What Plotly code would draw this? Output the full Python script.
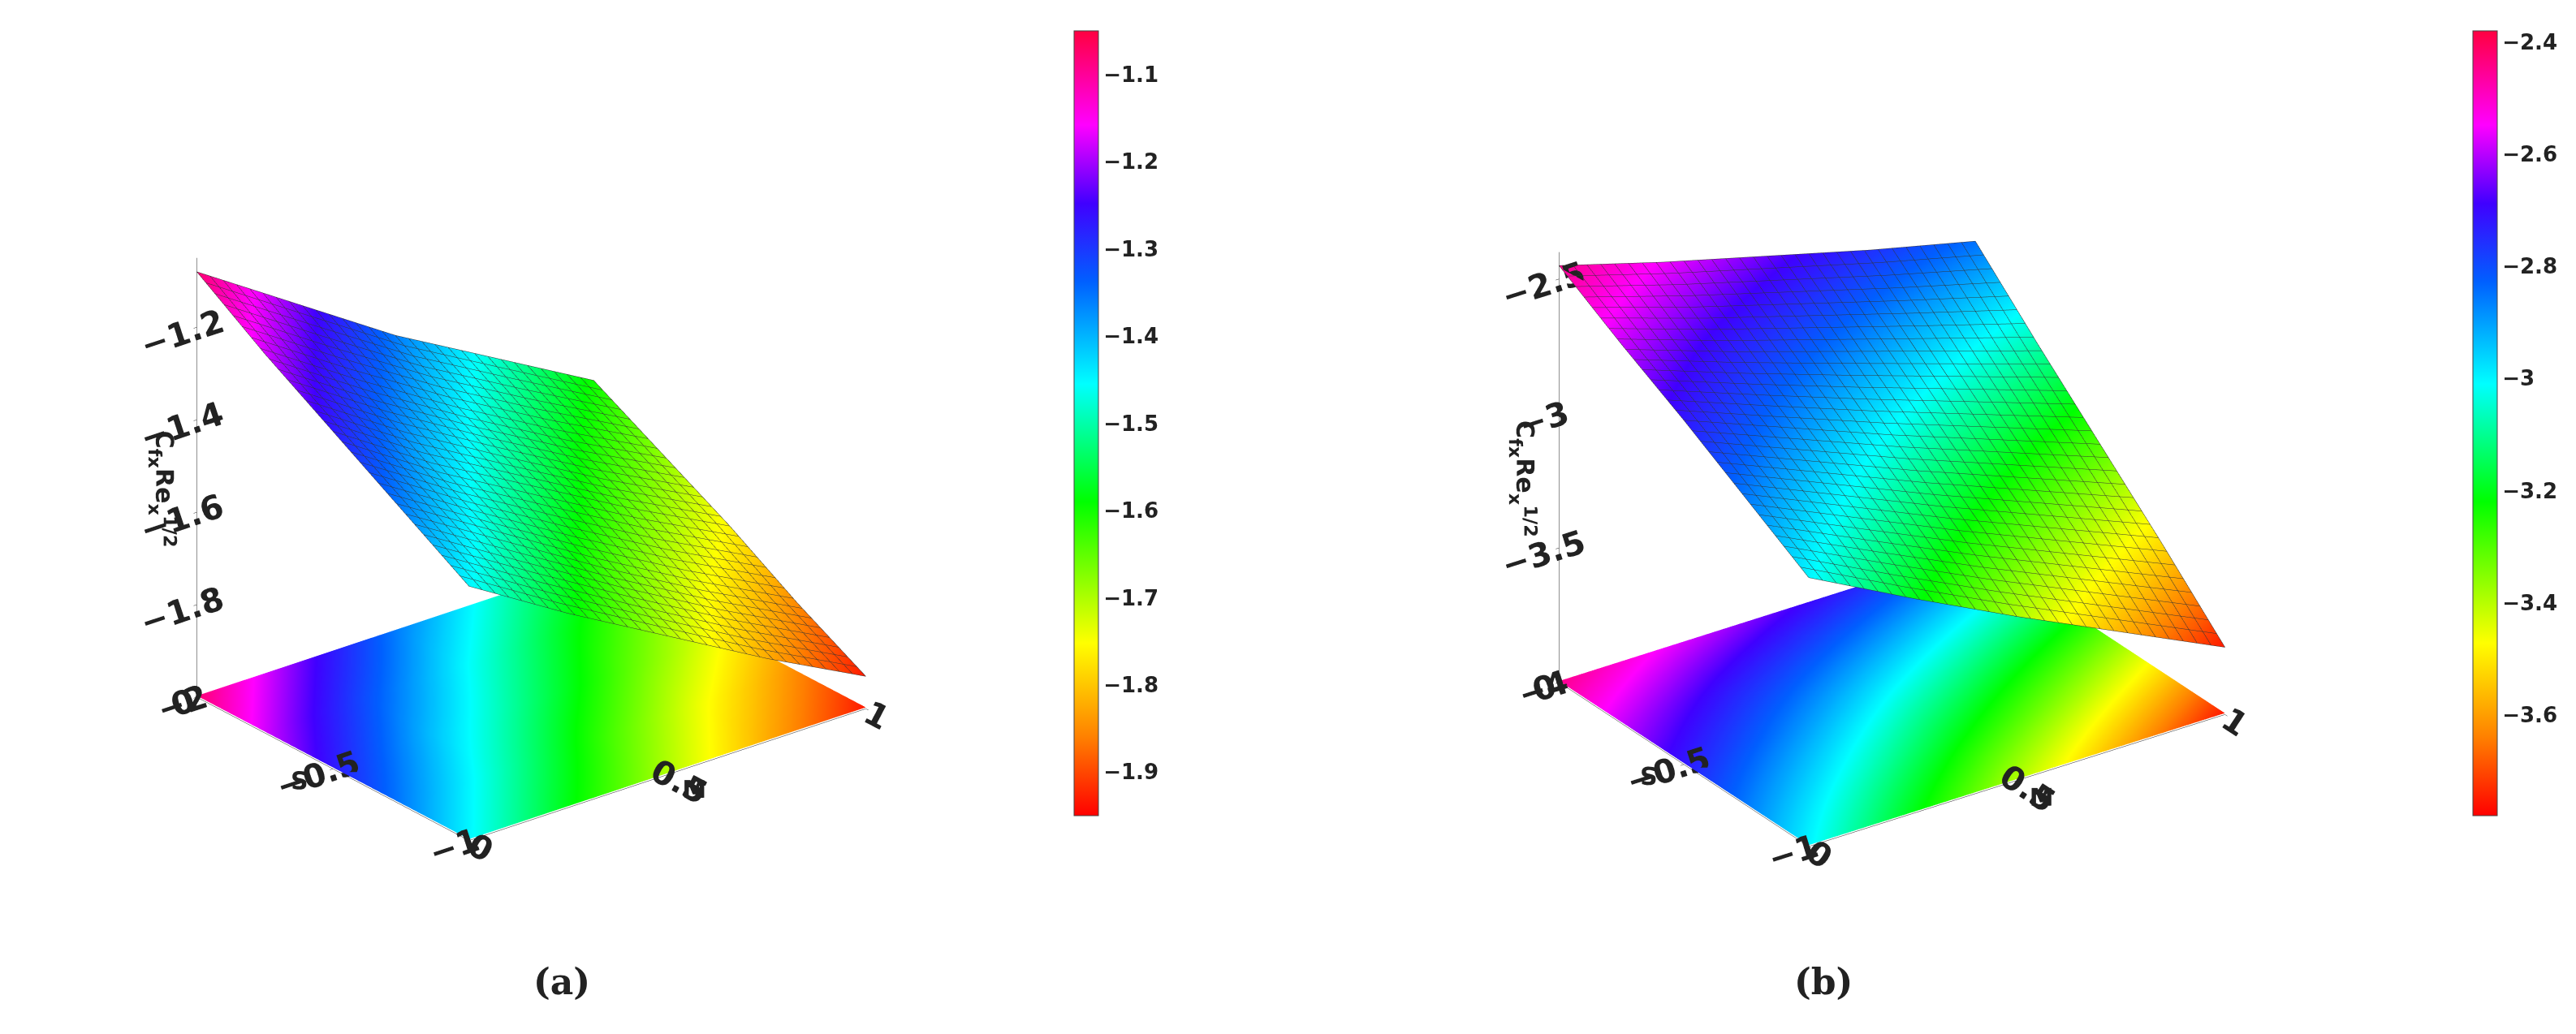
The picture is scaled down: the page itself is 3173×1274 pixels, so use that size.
import plotly.graph_objects as go

M = [0, 0.25, 0.5, 0.75, 1]
S = [-1, -0.75, -0.5, -0.25, 0]

# rows follow S, columns follow M
cfx_a = [
    [-1.45, -1.58, -1.70, -1.82, -1.93],
    [-1.36, -1.49, -1.62, -1.74, -1.85],
    [-1.27, -1.41, -1.53, -1.65, -1.76],
    [-1.18, -1.32, -1.45, -1.57, -1.68],
    [-1.08, -1.22, -1.36, -1.48, -1.60],
]
cfx_b = [
    [-3.00, -3.20, -3.39, -3.57, -3.75],
    [-2.86, -3.03, -3.20, -3.36, -3.52],
    [-2.72, -2.87, -3.02, -3.16, -3.30],
    [-2.59, -2.72, -2.84, -2.96, -3.08],
    [-2.45, -2.56, -2.66, -2.76, -2.85],
]

cscale = [[0, "#ff0000"], [0.1, "#ff8000"], [0.22, "#ffff00"], [0.4, "#00ff00"],
          [0.55, "#00ffff"], [0.68, "#0060ff"], [0.78, "#4000ff"],
          [0.88, "#ff00ff"], [1, "#ff0040"]]

font = dict(family="DejaVu Sans", size=22, color="#222", weight="bold")
fig = go.Figure()

def panel(z, scene, cmin, cmax, floor, cbx, dtick):
    fig.add_trace(go.Surface(
        x=M, y=S, z=z, scene=scene, colorscale=cscale, cmin=cmin, cmax=cmax,
        contours=dict(x=dict(show=True, color="#333", width=1, start=0, end=1, size=1 / 30),
                      y=dict(show=True, color="#333", width=1, start=-1, end=0, size=1 / 30)),
        colorbar=dict(x=cbx, len=0.8, y=0.6, thickness=30, outlinewidth=1,
                      dtick=dtick, tickfont=dict(font, size=26)),
        lighting=dict(ambient=0.9, diffuse=0.2, specular=0.05)))
    fig.add_trace(go.Surface(
        x=M, y=S, z=[[floor] * len(M) for _ in S], surfacecolor=z, scene=scene,
        colorscale=cscale, cmin=cmin, cmax=cmax, showscale=False,
        contours=dict(z=dict(show=False)),
        lighting=dict(ambient=1, diffuse=0, specular=0)))

panel(cfx_a, "scene", -1.95, -1.05, -1.997, 0.41, 0.1)
panel(cfx_b, "scene2", -3.78, -2.38, -3.995, 0.96, 0.2)

ztitle = "C<sub>fx</sub>Re<sub>x</sub><sup>1/2</sup>"
tfont = dict(font, size=30)
def scene_layout(dom, zr, ztv, eye):
    ax = dict(showbackground=False, showgrid=False, zeroline=False, tickfont=font,
              linecolor="#222", showline=True, ticks="outside", tickcolor="#222")
    return dict(
        domain=dict(x=dom, y=[0.08, 1]),
        xaxis=dict(ax, title=dict(text="M", font=tfont), range=[0, 1], tickvals=[0, 0.5, 1]),
        yaxis=dict(ax, title=dict(text="S", font=tfont), range=[-1, 0], tickvals=[-1, -0.5, 0]),
        zaxis=dict(ax, title=dict(text=ztitle, font=tfont), range=zr, tickvals=ztv),
        aspectmode="manual", aspectratio=dict(x=1.1, y=0.95, z=1.05),
        camera=dict(eye=eye, projection=dict(type="orthographic")))

fig.update_layout(
    width=3173, height=1274, paper_bgcolor="white", font=font,
    margin=dict(l=20, r=20, t=20, b=20),
    scene=scene_layout([0, 0.4], [-2, -1.05], [-2, -1.8, -1.6, -1.4, -1.2], dict(x=-0.54, y=-0.68, z=0.4)),
    scene2=scene_layout([0.52, 0.95], [-4, -2.4], [-4, -3.5, -3, -2.5], dict(x=-0.5, y=-0.72, z=0.45)),
    annotations=[
        dict(text="(a)", x=0.2, y=0.02, xref="paper", yref="paper", showarrow=False,
             font=dict(family="DejaVu Serif", size=44)),
        dict(text="(b)", x=0.72, y=0.02, xref="paper", yref="paper", showarrow=False,
             font=dict(family="DejaVu Serif", size=44)),
    ])

fig.write_html("out.html")
